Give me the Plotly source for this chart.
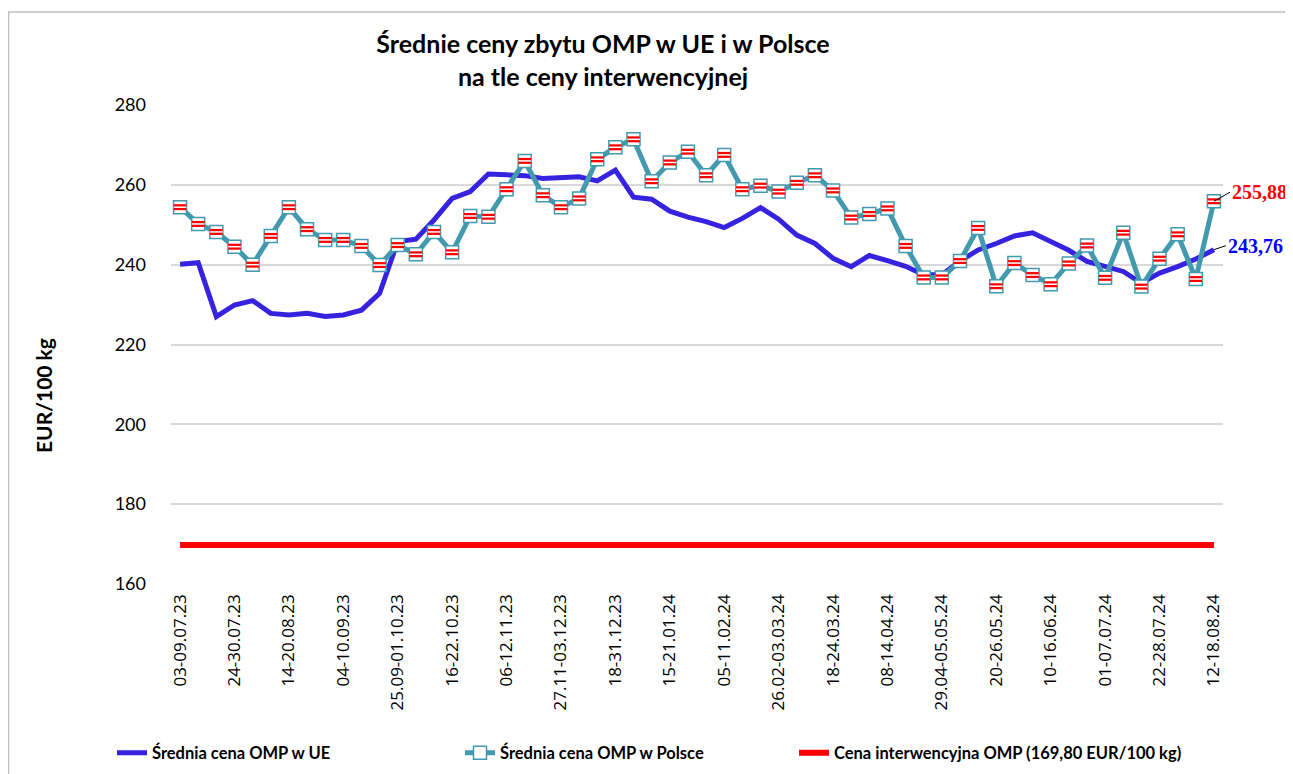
import plotly.graph_objects as go

weeks = [
    "03-09.07.23", "10-16.07.23", "17-23.07.23", "24-30.07.23", "31.07-06.08.23", "07-13.08.23",
    "14-20.08.23", "21-27.08.23", "28.08-03.09.23", "04-10.09.23", "11-17.09.23", "18-24.09.23",
    "25.09-01.10.23", "02-08.10.23", "09-15.10.23", "16-22.10.23", "23-29.10.23", "30.10-05.11.23",
    "06-12.11.23", "13-19.11.23", "20-26.11.23", "27.11-03.12.23", "04-10.12.23", "11-17.12.23",
    "18-31.12.23", "01-07.01.24", "08-14.01.24", "15-21.01.24", "22-28.01.24", "29.01-04.02.24",
    "05-11.02.24", "12-18.02.24", "19-25.02.24", "26.02-03.03.24", "04-10.03.24", "11-17.03.24",
    "18-24.03.24", "25-31.03.24", "01-07.04.24", "08-14.04.24", "15-21.04.24", "22-28.04.24",
    "29.04-05.05.24", "06-12.05.24", "13-19.05.24", "20-26.05.24", "27.05-02.06.24", "03-09.06.24",
    "10-16.06.24", "17-23.06.24", "24-30.06.24", "01-07.07.24", "08-14.07.24", "15-21.07.24",
    "22-28.07.24", "29.07-04.08.24", "05-11.08.24", "12-18.08.24",
]

eu_price = [
    240.1, 240.5, 227.0, 229.9, 231.0, 227.8, 227.4, 227.8, 227.0, 227.4,
    228.6, 232.8, 245.8, 246.4, 251.2, 256.6, 258.3, 262.7, 262.5, 262.3,
    261.6, 261.9, 262.0, 261.0, 263.7, 256.9, 256.4, 253.4, 251.9, 250.8,
    249.3, 251.6, 254.3, 251.4, 247.4, 245.3, 241.6, 239.5, 242.3, 241.0,
    239.6, 237.5, 237.5, 240.9, 243.7, 245.3, 247.2, 248.0, 245.8, 243.6,
    240.8, 239.5, 238.3, 235.4, 237.9, 239.5, 241.4, 243.76,
]

pl_price = [
    254.4, 250.2, 248.2, 244.5, 240.0, 247.2, 254.4, 248.9, 246.2, 246.2,
    244.7, 239.9, 244.9, 242.6, 248.2, 243.1, 252.2, 252.0, 258.9, 266.0,
    257.4, 254.4, 256.6, 266.4, 269.4, 271.4, 260.9, 265.6, 268.3, 262.4,
    267.5, 258.9, 259.8, 258.3, 260.5, 262.4, 258.6, 251.8, 252.7, 254.1,
    244.7, 236.8, 236.8, 240.9, 249.2, 234.6, 240.4, 237.4, 235.1, 240.3,
    244.8, 236.7, 248.0, 234.5, 241.5, 247.6, 236.4, 255.88,
]

intervention_price = [169.80] * len(weeks)

tick_labels = weeks[::3]

title_text = "Średnie ceny zbytu OMP w UE i w Polsce<br>na tle ceny interwencyjnej"
series_names = [
    "Średnia cena OMP w UE",
    "Średnia cena OMP w Polsce",
    "Cena interwencyjna OMP (169,80 EUR/100 kg)",
]

BLUE = "#3623E0"
TEAL = "#4399AE"
RED = "#FF0000"

# figure is placed at an 8px page offset; geometry below is in figure pixels
FW, FH = 1285, 766
L, R, T, B = 163, 1215, 97, 576
W, H = R - L, B - T

def px_x(p):
    return (p - L) / W

def px_y(p):
    return (B - p) / H

fig = go.Figure()

fig.add_trace(go.Scatter(
    x=weeks, y=intervention_price, mode="lines", name="<b>" + series_names[2] + "</b>",
    line=dict(color=RED, width=6), legend="legend3",
))
fig.add_trace(go.Scatter(
    x=weeks, y=eu_price, mode="lines", name="<b>" + series_names[0] + "</b>",
    line=dict(color=BLUE, width=5), legend="legend",
))
fig.add_trace(go.Scatter(
    x=weeks, y=pl_price, mode="lines+markers", name="<b>" + series_names[1] + "</b>",
    line=dict(color=TEAL, width=5),
    marker=dict(symbol="square", size=13, color="white",
                line=dict(color=TEAL, width=1.5)),
    legend="legend2",
))
# red stripes on markers
fig.add_trace(go.Scatter(
    x=weeks, y=pl_price, mode="markers", showlegend=False, hoverinfo="skip",
    marker=dict(symbol="line-ew", size=9, line=dict(color=RED, width=6)),
))
fig.add_trace(go.Scatter(
    x=weeks, y=pl_price, mode="markers", showlegend=False, hoverinfo="skip",
    marker=dict(symbol="line-ew", size=9, line=dict(color="white", width=1.5)),
))

fig.add_annotation(
    x=weeks[-1], y=pl_price[-1], text="<b>255,88</b>", showarrow=True,
    arrowhead=0, arrowwidth=1, arrowcolor="black", ax=16, ay=-9,
    xanchor="left", font=dict(family="Liberation Serif", size=20, color=RED),
)
fig.add_annotation(
    x=weeks[-1], y=eu_price[-1], text="<b>243,76</b>", showarrow=True,
    arrowhead=0, arrowwidth=1, arrowcolor="black", ax=12, ay=-4,
    xanchor="left", font=dict(family="Liberation Serif", size=20, color="#0000FF"),
)

fig.add_annotation(
    xref="paper", yref="paper", x=px_x(35), y=px_y(388),
    xanchor="center", yanchor="middle",
    text="<b>EUR/100 kg</b>", textangle=-90, showarrow=False,
    font=dict(family="Lato", size=21, color="black"),
)

# outer chart border
fig.add_shape(
    type="rect", xref="paper", yref="paper",
    x0=px_x(0.5), x1=px_x(1300), y0=px_y(790), y1=px_y(4),
    line=dict(color="#BFBFBF", width=1.5), layer="below",
)

leg_common = dict(
    orientation="h", yanchor="middle", xanchor="left",
    font=dict(family="Lato", size=16.5, color="black"),
    itemwidth=30, bgcolor="rgba(0,0,0,0)",
)

fig.update_layout(
    width=FW, height=FH,
    margin=dict(l=L, r=FW - R, t=T, b=FH - B, autoexpand=False),
    paper_bgcolor="white", plot_bgcolor="white",
    title=dict(
        text="<b>" + title_text + "</b>", x=595 / FW, xanchor="center",
        y=1 - 45 / FH, yanchor="top",
        font=dict(family="Lato", size=25, color="black"),
    ),
    font=dict(family="Lato", color="black"),
    showlegend=True,
    legend=dict(x=px_x(104), y=px_y(745), **leg_common),
    legend2=dict(x=px_x(452), y=px_y(745), **leg_common),
    legend3=dict(x=px_x(786), y=px_y(745), **leg_common),
    xaxis=dict(
        type="category", categoryorder="array", categoryarray=weeks,
        range=[-0.5, len(weeks) - 0.5], automargin=False,
        tickmode="array", tickvals=tick_labels, ticktext=tick_labels,
        tickangle=-90, showgrid=False, zeroline=False, showline=False,
        ticks="", ticklabelstandoff=6,
        tickfont=dict(family="Open Sans", size=17, color="black"),
    ),
    yaxis=dict(
        range=[160, 280], tickmode="linear", tick0=160, dtick=20, automargin=False,
        showgrid=True, gridcolor="#D9D9D9", gridwidth=1.5, zeroline=False,
        showline=False, ticks="", ticklabelstandoff=24,
        tickfont=dict(family="Lato", size=18, color="black"),
    ),
)

fig.write_html("out.html")
